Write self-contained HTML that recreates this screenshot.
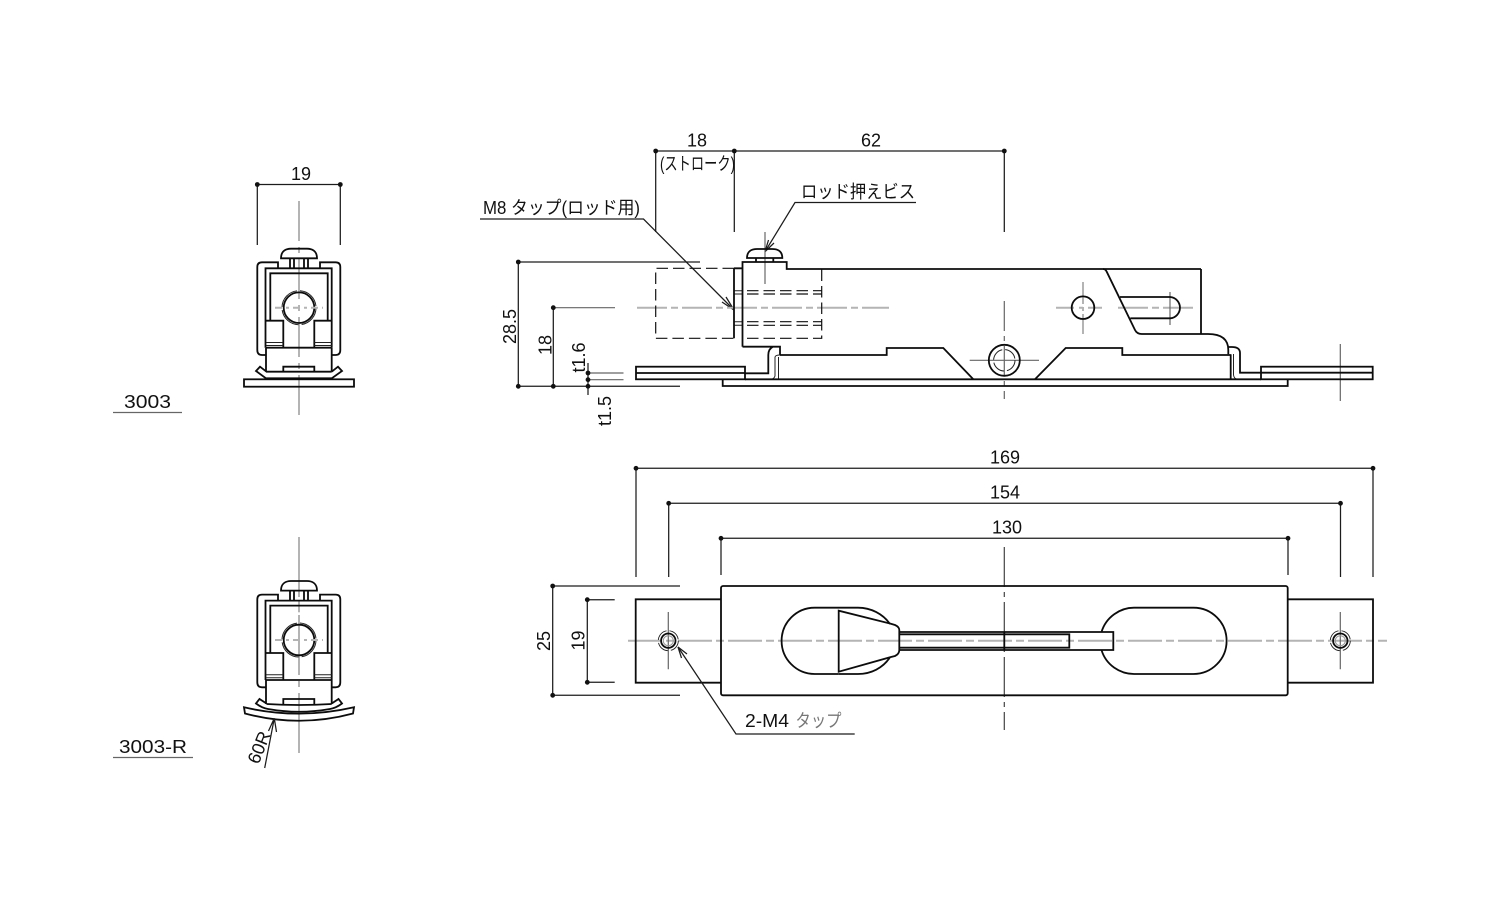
<!DOCTYPE html>
<html><head><meta charset="utf-8"><style>
html,body{margin:0;padding:0;background:#fff}
svg{display:block}
text{font-family:"Liberation Sans","Noto Sans CJK JP",sans-serif;fill:#111;font-size:18px}
.o{fill:none;stroke:#0c0c0c;stroke-width:1.8}
.t{fill:none;stroke:#222;stroke-width:1}
.d{fill:none;stroke:#1c1c1c;stroke-width:1.25}
.g{fill:none;stroke:#b4b4b4;stroke-width:2}
.n{fill:none;stroke:#666;stroke-width:1.2}
.h{fill:none;stroke:#111;stroke-width:1.2;stroke-dasharray:11.5 5}
</style></head><body>
<svg width="1500" height="900" viewBox="0 0 1500 900" xmlns="http://www.w3.org/2000/svg">
<rect width="1500" height="900" fill="#fff"/>
<defs>
<g id="fv">
<path class="g" d="M299 268V280"/>
<path class="o" fill="#fff" d="M281 258.3C281 251 286 248.7 291 248.7H307C312 248.7 317 251 317 258.3Z"/>
<path class="o" d="M290 258.3V268M294 258.3V268M304 258.3V268M308 258.3V268"/>
<path class="o" d="M278 268.3V262.3H262Q257.3 262.3 257.3 267V350Q257.3 355 262 355H266"/>
<path class="o" d="M320 268.3V262.3H335.6Q340.3 262.3 340.3 267V350Q340.3 355 335.6 355H331.7"/>
<path class="o" d="M265.5 347.7V268.3H331.7V347.7"/>
<path class="o" d="M270.3 320.7V273.3H327.7V320.7"/>
<circle class="o" cx="299" cy="307.7" r="15.3"/>
<circle class="t" cx="299" cy="307.7" r="17" stroke-dasharray="24 3"/>
<path class="g" d="M275 307.7H323" stroke-dasharray="7 4 3 4"/>
<path class="o" d="M266 320.7H283.3V347.7M331.7 320.7H314.3V347.7"/>
<path class="t" d="M266 342.5H283.3M266 345.5H283.3M314.3 342.5H331.7M314.3 345.5H331.7"/>
<path class="o" d="M266 347.7H331.7"/>
<path class="o" d="M266 347.7V371.7M331.7 347.7V371.7"/>
<path class="o" d="M283.3 371.7V366.7H314.3V371.7"/>
</g>
</defs>

<!-- FRONT VIEW 3003 -->
<path d="M299 201V417" stroke="#b4b4b4" stroke-width="2" stroke-dasharray="40 6 6 6" fill="none"/>
<use href="#fv"/>
<path class="o" d="M266 371.7H331.7"/>
<path class="o" d="M266.5 371.7L260 366.7L256 371L266 378.3H331.7L342 371L338 366.7L331.7 371.7"/>
<rect class="o" x="244" y="379.3" width="110" height="7.4"/>
<path class="d" d="M257.3 184.5H340.3M257.3 184.5V245M340.3 184.5V245"/>
<circle cx="257.3" cy="184.5" r="2.4" fill="#111"/><circle cx="340.3" cy="184.5" r="2.4" fill="#111"/>
<text x="301" y="180" text-anchor="middle">19</text>
<path class="n" d="M113 412.5H182"/>
<text x="124" y="408" textLength="47" lengthAdjust="spacingAndGlyphs">3003</text>

<!-- FRONT VIEW 3003-R -->
<path d="M299 537V758" stroke="#b4b4b4" stroke-width="2" stroke-dasharray="60 6 6 6" fill="none"/>
<use href="#fv" transform="translate(0 332.3)"/>
<path class="o" d="M266.5 704Q299 706 331.7 704"/>
<path class="o" d="M266.5 703.5L259.5 699L256 703.5Q262 708 268 709Q299 714.5 330 709Q336 708 342 703.5L338.5 699L331.7 703.5"/>
<path class="o" d="M244 707.3L245 713.5Q299 728 353 713.5L354 707.3Q299 720 244 707.3Z" fill="#fff"/>
<path class="d" d="M264.7 768L274.3 718.3M274.3 718.3L268.5 731M274.3 718.3L276.5 732"/>
<text transform="translate(258.5 765) rotate(-68)" font-size="19">60R</text>
<path class="n" d="M113 757.5H193"/>
<text x="119" y="753" textLength="68" lengthAdjust="spacingAndGlyphs">3003-R</text>

<!-- SIDE VIEW -->
<path class="d" d="M655.7 151H1004.3M655.7 151V232M734.3 151V232M1004.3 151V232"/>
<circle cx="655.7" cy="151" r="2.4" fill="#111"/><circle cx="734.3" cy="151" r="2.4" fill="#111"/><circle cx="1004.3" cy="151" r="2.4" fill="#111"/>
<text x="697" y="146.5" text-anchor="middle">18</text>
<text x="871" y="146.5" text-anchor="middle">62</text>
<text x="660" y="170" font-size="14" textLength="75" lengthAdjust="spacingAndGlyphs">(ストローク)</text>
<text x="483" y="214" font-size="16.5" textLength="157" lengthAdjust="spacingAndGlyphs">M8 タップ(ロッド用)</text>
<path class="d" d="M480 219H643.5L734 310"/>
<path class="d" d="M734 310L722 302M734 310L726 297"/>
<text x="801" y="198" font-size="16.5" textLength="114" lengthAdjust="spacingAndGlyphs">ロッド押えビス</text>
<path class="d" d="M916 202.5H795L765 251.7"/>
<path class="d" d="M765 251.7L768.5 240M765 251.7L774 243"/>

<path class="d" d="M518.3 262H700M518.3 262V386.3M518.3 386.3H680M553.3 307.7V386.3"/>
<path class="n" d="M553.3 307.7H615"/>
<circle cx="518.3" cy="262" r="2.4" fill="#111"/><circle cx="518.3" cy="386.3" r="2.4" fill="#111"/>
<circle cx="553.3" cy="307.7" r="2.4" fill="#111"/><circle cx="553.3" cy="386.3" r="2.4" fill="#111"/>
<text transform="translate(516 344) rotate(-90)" font-size="19">28.5</text>
<text transform="translate(551.5 355) rotate(-90)" font-size="19">18</text>
<path class="n" d="M588 373H623.5M588 379.7H623.5"/>
<path class="d" d="M588 363V395"/>
<circle cx="588" cy="373" r="2.4" fill="#111"/><circle cx="588" cy="379.7" r="2.4" fill="#111"/><circle cx="588" cy="386.3" r="2.4" fill="#111"/>
<text transform="translate(585 372.5) rotate(-90)" font-size="17.5">t1.6</text>
<text transform="translate(611 426) rotate(-90)" font-size="17">t1.5</text>

<!-- center lines -->
<path class="g" d="M637 307.7H889" stroke-dasharray="30 4 7 4"/>
<path class="g" d="M1056 307.7H1102" stroke-dasharray="18 5 4 5"/>
<path class="g" d="M1083 282V334" stroke-dasharray="22 3 4 3"/>
<path class="g" d="M1118 307.7H1193" stroke-dasharray="30 4 7 4"/>
<path class="n" d="M1170 292V325"/>
<path class="n" d="M765 232V284"/>
<path class="n" d="M1004.3 301V399" stroke-dasharray="30 5 5 5"/>
<path class="n" d="M969.7 360.3H1039"/>
<path class="n" d="M1340.3 344V401"/>

<!-- hidden lines -->
<path class="h" d="M734 268.3H655.7V338.3H734" />
<path class="h" d="M747 338.3H821.7V268.3"/>
<path class="h" d="M747 290.7H821.7M747 294H821.7M747 321.7H821.7M747 325.3H821.7"/>
<path class="t" d="M734 290.7H742M734 294H742M734 321.7H742M734 325.3H742"/>
<path class="o" d="M734 268.3V338.3M734 268.3H742"/>

<!-- body -->
<path class="o" d="M747 258C747 251 752 249 757 249H772C778 249 782.3 251 782.3 258Z"/>
<path class="o" d="M756 258V262M773.3 258V262"/>
<path class="o" d="M742.5 346.7V262H786.7V269H1103Q1105.5 269 1106.7 271.7L1135 330Q1137 334 1141.7 334H1208Q1228.3 334 1228.3 350V354.3"/>
<path class="o" d="M1201 269H1103M1201 269V334"/>
<path class="o" d="M1120 297H1170.3A10.7 10.7 0 0 1 1170.3 318.3H1130.3"/>
<circle class="o" cx="1083" cy="307.7" r="11.3"/>
<path class="o" d="M742.5 346.7H773Q768.3 349 768.3 355V373.3H745M773 346.7H780V355"/>
<path class="o" d="M780 355H886.7V348H943.3L973.3 379.3M1035 379.3L1065.7 348H1122.3V355H1230.7"/>
<path class="t" d="M775 357V376Q774 379 771 379.3M778.5 357V379.3M775 357Q775.5 355 780 355"/>
<path class="o" d="M1230.7 354.3V379.3"/>
<path class="o" d="M1228.3 347H1232Q1240 347 1240 353V372.7H1261"/>
<path class="t" d="M1233.5 354V375Q1234 379 1238 379.3"/>
<circle class="o" cx="1004.3" cy="360.3" r="15.5"/>
<circle class="t" cx="1004.3" cy="360.3" r="10.7" stroke-dasharray="14 3"/>
<rect class="o" x="636" y="366.7" width="109" height="12.6"/>
<path class="o" d="M636 373H745"/>
<rect class="o" x="1261" y="366.7" width="111.7" height="12.6"/>
<path class="o" d="M1261 372.7H1372.7"/>
<path class="o" d="M745 379.3H1261M722.7 379.3V386H1287.7V379.3"/>

<!-- PLAN VIEW dims -->
<path class="d" d="M636 468.3H1373M636 468.3V577M1373 468.3V577"/>
<path class="d" d="M668.7 503.3H1340.5M668.7 503.3V577M1340.5 503.3V577"/>
<path class="d" d="M721 538.3H1288M721 538.3V575M1288 538.3V575"/>
<circle cx="636" cy="468.3" r="2.4" fill="#111"/><circle cx="1373" cy="468.3" r="2.4" fill="#111"/>
<circle cx="668.7" cy="503.3" r="2.4" fill="#111"/><circle cx="1340.5" cy="503.3" r="2.4" fill="#111"/>
<circle cx="721" cy="538.3" r="2.4" fill="#111"/><circle cx="1288" cy="538.3" r="2.4" fill="#111"/>
<text x="1005" y="463.5" text-anchor="middle">169</text>
<text x="1005" y="498.5" text-anchor="middle">154</text>
<text x="1007" y="533.5" text-anchor="middle">130</text>
<path class="d" d="M552.7 586V695.3M552.7 586H680M552.7 695.3H680M587.3 599.7V682.3M587.3 599.7H614.7M587.3 682.3H614.7"/>
<circle cx="552.7" cy="586" r="2.4" fill="#111"/><circle cx="552.7" cy="695.3" r="2.4" fill="#111"/>
<circle cx="587.3" cy="599.7" r="2.4" fill="#111"/><circle cx="587.3" cy="682.3" r="2.4" fill="#111"/>
<text transform="translate(550 651) rotate(-90)" font-size="19">25</text>
<text transform="translate(584.5 650.5) rotate(-90)" font-size="19">19</text>

<!-- PLAN VIEW -->
<path class="g" d="M628 640.7H1387" stroke-dasharray="34 4 8 4"/>
<path class="n" d="M1004.3 547V730" stroke-dasharray="40 5 5 5" style="stroke:#444"/>
<path class="o" d="M721 599.3H635.7V682.7H721M1287.7 599.3H1373V682.7H1287.7"/>
<rect class="o" x="721" y="586" width="566.7" height="109.3" rx="2"/>
<path class="o" d="M838.7 674H814.7A33.15 33.15 0 0 1 814.7 607.7H858C871 607.7 883 614 890 624"/>
<path class="o" d="M838.7 674H858C871 674 883 668 890 657.3"/>
<path class="o" d="M838.7 610.7V671.7L890 657.3L895 656Q899.3 654 899.3 650V630Q899.3 627 895 625L890 623.5Z" fill="#fff"/>
<path class="o" d="M1101.5 632C1106 617 1120 607.7 1134 607.7H1193.5A33.15 33.15 0 0 1 1193.5 674H1134C1120 674 1106 665 1101.5 650"/>
<path class="o" d="M899.3 632H1113.3V650H899.3"/>
<path class="o" d="M899.3 634.3H1069.3V647.7H899.3"/>
<path class="o" d="M1004.3 632V650"/>
<path class="n" d="M668.3 612V669.3M1340.3 612V669.3"/>
<g id="hole">
<circle class="o" cx="668.3" cy="640.7" r="7.2"/>
<circle cx="668.3" cy="640.7" r="5" fill="none" stroke="#999" stroke-width="1"/>
<circle class="t" cx="668.3" cy="640.7" r="10" stroke-dasharray="13 3" style="stroke-width:.9"/>
</g>
<use href="#hole" transform="translate(672 0)"/>
<path class="d" d="M678 647L736 734H854.7"/>
<path class="d" d="M678 647L687 654M678 647L681.5 658"/>
<text x="745" y="727" font-size="17" textLength="44" lengthAdjust="spacingAndGlyphs">2-M4</text>
<text x="795.5" y="727" font-size="15.5" textLength="46" lengthAdjust="spacingAndGlyphs" style="fill:#777">タップ</text>
</svg>
</body></html>
